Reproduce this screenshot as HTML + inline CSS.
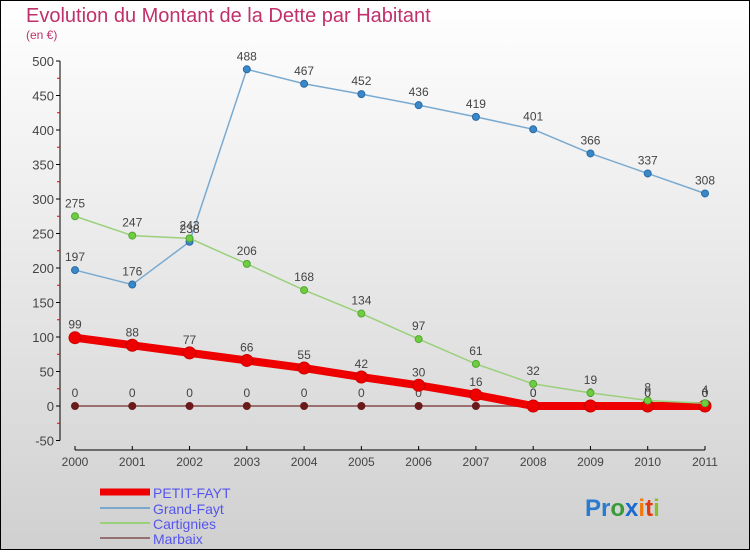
<!DOCTYPE html>
<html><head><meta charset="utf-8"><style>
body{margin:0}
#c{width:750px;height:550px;position:relative;font-family:"Liberation Sans",sans-serif;}
svg text{font-family:"Liberation Sans",sans-serif}
</style></head><body>
<div id="c">
<svg id="s" width="750" height="550">
<defs><linearGradient id="bg" x1="0" y1="0" x2="0" y2="1"><stop offset="0" stop-color="#ffffff"/><stop offset="1" stop-color="#d0d0d0"/></linearGradient></defs>
<rect x="0.5" y="0.5" width="749" height="549" fill="url(#bg)" stroke="#000"/>
<text x="26" y="22" font-size="20" fill="#c0306a">Evolution du Montant de la Dette par Habitant</text>
<text x="26" y="39" font-size="12" fill="#c0306a">(en €)</text>
<g id="axes"></g><g id="series"></g>
<g>
<line x1="100" y1="492" x2="150" y2="492" stroke="#e00" stroke-width="7"/>
<text x="153" y="498" font-size="14" fill="#5555ee">PETIT-FAYT</text>
<line x1="100" y1="508" x2="150" y2="508" stroke="#7aa8cc" stroke-width="2"/>
<text x="153" y="514" font-size="14" fill="#5555ee">Grand-Fayt</text>
<line x1="100" y1="523" x2="150" y2="523" stroke="#9ad07a" stroke-width="2"/>
<text x="153" y="529" font-size="14" fill="#5555ee">Cartignies</text>
<line x1="100" y1="538" x2="150" y2="538" stroke="#957070" stroke-width="2"/>
<text x="153" y="544" font-size="14" fill="#5555ee">Marbaix</text>
</g>
<text x="585" y="516" font-size="24" font-weight="bold"><tspan fill="#2a7ad0">Pr</tspan><tspan fill="#3a9a3a">o</tspan><tspan fill="#1a6ad0">x</tspan><tspan fill="#f07a10">i</tspan><tspan fill="#e03a10">t</tspan><tspan fill="#8ac030">i</tspan></text>
</svg></div>
<script>
const years=[2000,2001,2002,2003,2004,2005,2006,2007,2008,2009,2010,2011];
const petitFayt=[99,88,77,66,55,42,30,16,0,0,0,0];
const grandFayt=[197,176,238,488,467,452,436,419,401,366,337,308];
const cartignies=[275,247,243,206,168,134,97,61,32,19,8,4];
const marbaix=[0,0,0,0,0,0,0,0,0,0,0,0];
const yTicks=[-50,0,50,100,150,200,250,300,350,400,450,500];
const NS="http://www.w3.org/2000/svg";
const X=i=>75+i*(630/11);
const Y=v=>406-v*0.69;
function mk(tag,attrs,parent){const e=document.createElementNS(NS,tag);for(const k in attrs)e.setAttribute(k,attrs[k]);parent.appendChild(e);return e;}
const ax=document.getElementById('axes');
let l=mk('line',{x1:60,y1:Y(500),x2:60,y2:Y(-50),stroke:'#000'},ax);


yTicks.forEach((v,i)=>{
 let t=mk('line',{x1:56,y1:Y(v),x2:60,y2:Y(v),stroke:'#000'},ax);
 
 
 if(i<yTicks.length-1){let m=mk('line',{x1:57,y1:Y(v+25),x2:60,y2:Y(v+25),stroke:'#e00'},ax);
 
 }
 let tx=mk('text',{x:54,y:Y(v)+5,'font-size':13,fill:'#444','text-anchor':'end'},ax);tx.textContent=v;
 
 
});
l=mk('line',{x1:X(0),y1:450,x2:X(11),y2:450,stroke:'#000'},ax);


years.forEach((y,i)=>{
 let t=mk('line',{x1:X(i),y1:446,x2:X(i),y2:450,stroke:'#000'},ax);
 
 
 let tx=mk('text',{x:X(i),y:466,'font-size':12,fill:'#444','text-anchor':'middle'},ax);tx.textContent=y;
 
 
});
const sg=document.getElementById('series');
function series(vals,name,color,w,r,dot,dotStroke){
 const g=mk('g',{},sg);
 
 
 const p=mk('polyline',{points:vals.map((v,i)=>X(i)+','+Y(v)).join(' '),fill:'none',stroke:color,'stroke-width':w,'stroke-linejoin':'round'},g);
 
 
 vals.forEach((v,i)=>{
  const c=mk('circle',{cx:X(i),cy:Y(v),r:r,fill:dot,stroke:dotStroke,'stroke-width':1},g);
  
  
  const t=mk('text',{x:X(i),y:Y(v)-9,'font-size':12,fill:'#444','text-anchor':'middle'},g);t.textContent=v;
  
  
 });
}
series(marbaix,'marbaix','#9a7070',2,3.5,'#6a1a1a','#6a1a1a');
series(petitFayt,'petit-fayt','#ee0000',8,6,'#ee0000','#c00');
series(grandFayt,'grand-fayt','#7aaad0',1.5,3.5,'#3a88c8','#2a6aa8');
series(cartignies,'cartignies','#9ad07a',1.5,3.5,'#70cc40','#50a830');
</script>
</body></html>
